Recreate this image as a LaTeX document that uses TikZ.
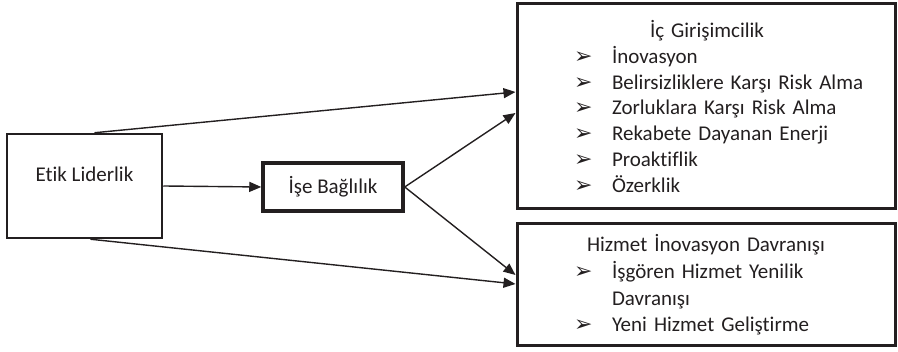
\documentclass[tikz,border=0pt]{standalone}
\usepackage{fontspec}
\setmainfont{Carlito}[RawFeature=-liga]
\newfontfamily\arrowfont{DejaVu Sans}
\usepackage{xcolor}
\usepackage{tikz}
\usetikzlibrary{arrows.meta,positioning,calc}
\definecolor{diagdark}{RGB}{35,31,32}
\newcommand{\bul}{{\arrowfont\fontsize{22}{22}\selectfont ➢}}
\newcommand{\bitem}[1]{\hspace*{57pt}\makebox[38pt][l]{\bul}#1}

\begin{document}
\begin{tikzpicture}[
    x=1pt, y=1pt,
    every node/.style={font=\fontsize{21}{25.8}\selectfont, align=center, text=diagdark},
    varbox/.style={rectangle, draw=diagdark, line width=2.5pt, minimum width=155pt, minimum height=104pt, text depth=24pt},
    medbox/.style={rectangle, draw=diagdark, line width=3.5pt, minimum width=140pt, minimum height=48pt},
    outbox/.style={rectangle, draw=diagdark, line width=3pt, minimum width=378pt, text width=378pt, inner sep=0pt, align=left},
    arr/.style={-{Triangle[length=12pt,width=10pt]}, line width=1.4pt, draw=diagdark}
]
\useasboundingbox (0,0) rectangle (898,352);

\node[varbox] (etik) at (84.5,166) {Etik Liderlik};
\node[medbox] (ise) at (333,165) {İşe Bağlılık};
\node[outbox, minimum height=205pt] (icg) at (706,245.5) {%
  \hspace*{133pt}İç Girişimcilik\\
  \bitem{İnovasyon}\\
  \bitem{Belirsizliklere Karşı Risk Alma}\\
  \bitem{Zorluklara Karşı Risk Alma}\\
  \bitem{Rekabete Dayanan Enerji}\\
  \bitem{Proaktiflik}\\
  \bitem{Özerklik}};
\node[outbox, minimum height=122pt, font=\fontsize{21}{26.7}\selectfont] (hiz) at (706,67) {%
  \hspace*{70pt}Hizmet İnovasyon Davranışı\\
  \bitem{İşgören Hizmet Yenilik}\\
  \hspace*{95pt}Davranışı\\
  \bitem{Yeni Hizmet Geliştirme}};

\draw[arr] ($(etik.north)+(10,0)$) -- ($(icg.west)+(0,14.5)$);
\draw[arr] (etik.east) -- (ise.west);
\draw[arr] (ise.east) -- ($(icg.west)+(0,-6.5)$);
\draw[arr] (ise.east) -- ($(hiz.west)+(0,10)$);
\draw[arr] ($(etik.south)+(6,0)$) -- ($(hiz.west)+(0,1)$);

\end{tikzpicture}
\end{document}
